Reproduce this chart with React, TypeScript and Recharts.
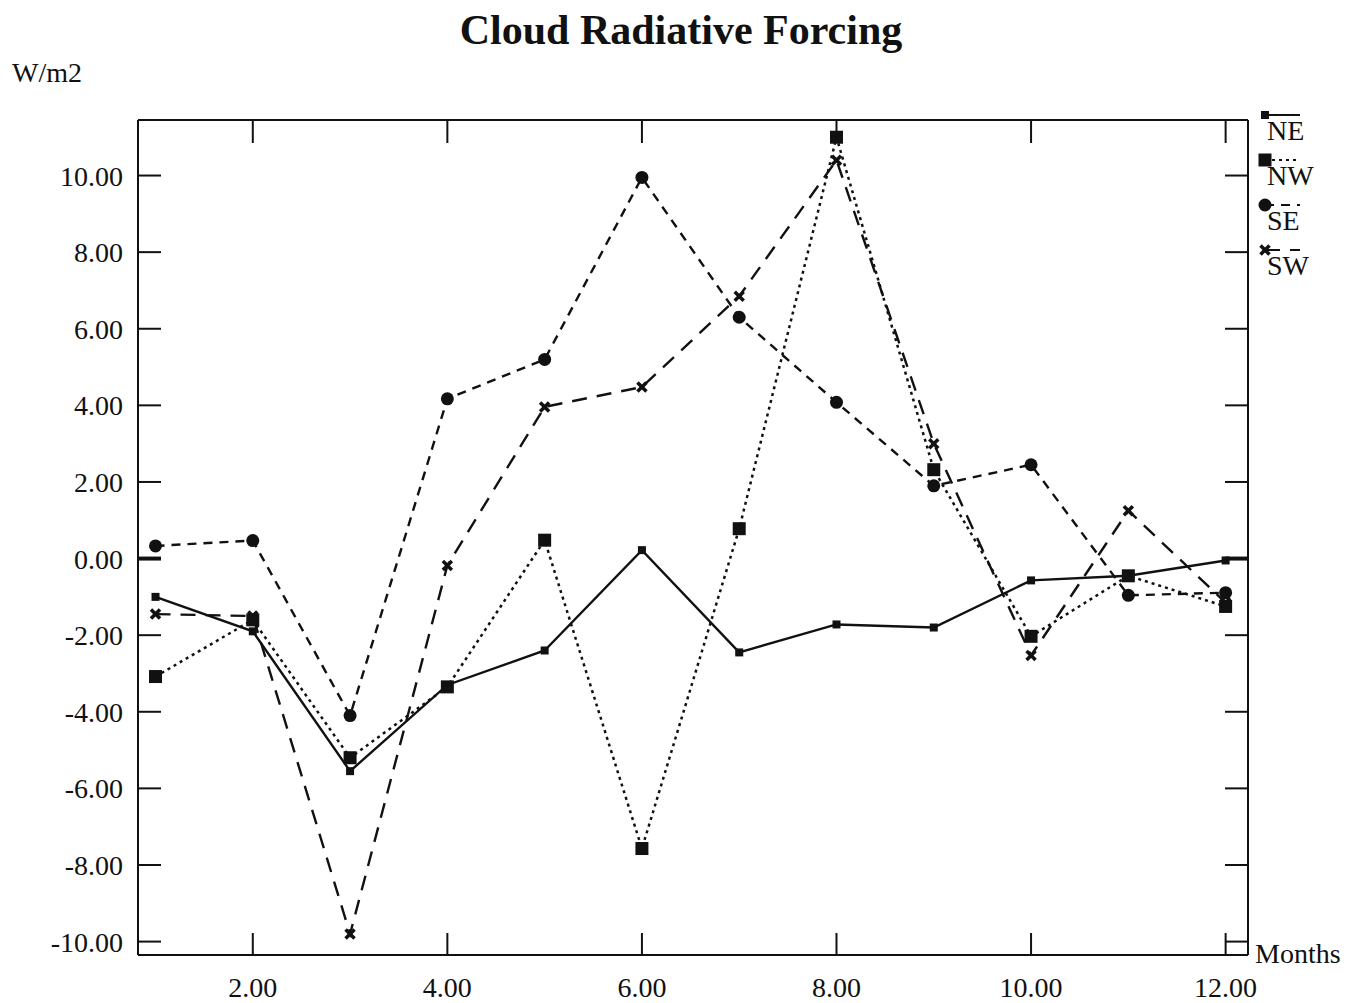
import React from "react";
import { LineChart, Line, XAxis, YAxis } from "recharts";

// Monthly cloud radiative forcing (W/m2) per quadrant
const months = [1, 2, 3, 4, 5, 6, 7, 8, 9, 10, 11, 12];
const neValues = [-1.0, -1.9, -5.55, -3.3, -2.4, 0.22, -2.45, -1.72, -1.8, -0.57, -0.45, -0.05];
const nwValues = [-3.08, -1.6, -5.2, -3.35, 0.48, -7.57, 0.78, 11.0, 2.32, -2.03, -0.45, -1.25];
const seValues = [0.33, 0.47, -4.1, 4.17, 5.2, 9.95, 6.3, 4.08, 1.9, 2.45, -0.96, -0.89];
const swValues = [-1.45, -1.5, -9.8, -0.18, 3.96, 4.48, 6.85, 10.4, 3.0, -2.53, 1.25, -1.15];

const xTicks = [2, 4, 6, 8, 10, 12];
const yTicks = [-10, -8, -6, -4, -2, 0, 2, 4, 6, 8, 10];

const INK = "#111";
const FONT = "'Liberation Serif', 'Times New Roman', serif";
const X_DOMAIN = [0.82, 12.23];
const Y_DOMAIN = [-10.35, 11.45];

const data = months.map((m, i) => ({
  month: m,
  NE: neValues[i],
  NW: nwValues[i],
  SE: seValues[i],
  SW: swValues[i],
}));

const fmt = (v: number) => v.toFixed(2);

// marker shapes
function square(size: number) {
  return (p: any) => (
    <rect key={`s${size}-${p.index}`} x={p.cx - size / 2} y={p.cy - size / 2} width={size} height={size} fill={INK} />
  );
}
function circle(p: any) {
  return <circle key={`c-${p.index}`} cx={p.cx} cy={p.cy} r={6.5} fill={INK} />;
}
function cross(p: any) {
  const s = 4.5;
  return (
    <g key={`x-${p.index}`} stroke={INK} strokeWidth={3.5}>
      <line x1={p.cx - s} y1={p.cy - s} x2={p.cx + s} y2={p.cy + s} />
      <line x1={p.cx - s} y1={p.cy + s} x2={p.cx + s} y2={p.cy - s} />
    </g>
  );
}

const series = [
  { key: "NE", dash: undefined, dot: square(8), width: 2.4 },
  { key: "NW", dash: "3 4", dot: square(13), width: 2.5 },
  { key: "SE", dash: "9 7", dot: circle, width: 2.4 },
  { key: "SW", dash: "15 10", dot: cross, width: 2.4 },
];

const LeftTick = (p: any) => (
  <g>
    <line x1={p.x} x2={p.x + 23} y1={p.y} y2={p.y} stroke={INK} strokeWidth={p.payload.value === 0 ? 4 : 2} />
    <text x={p.x - 15} y={p.y + 10} textAnchor="end" fontSize={28} fontFamily={FONT} fill={INK}>
      {fmt(p.payload.value)}
    </text>
  </g>
);
const RightTick = (p: any) => (
  <line x1={p.x - 23} x2={p.x} y1={p.y} y2={p.y} stroke={INK} strokeWidth={p.payload.value === 0 ? 4 : 2} />
);
const BottomTick = (p: any) => (
  <g>
    <line x1={p.x} x2={p.x} y1={p.y} y2={p.y - 22} stroke={INK} strokeWidth={2} />
    <text x={p.x} y={p.y + 42} textAnchor="middle" fontSize={28} fontFamily={FONT} fill={INK}>
      {fmt(p.payload.value)}
    </text>
  </g>
);
const TopTick = (p: any) => (
  <line x1={p.x} x2={p.x} y1={p.y} y2={p.y + 23} stroke={INK} strokeWidth={2} />
);

function LegendBox() {
  return (
    <svg width={97} height={190} style={{ position: "absolute", left: 1250, top: 100 }}>
      {series.map((s, i) => {
        const y = 15 + i * 45;
        return (
          <g key={s.key}>
            <line x1={15} x2={50} y1={y} y2={y} stroke={INK} strokeWidth={2} strokeDasharray={s.dash} />
            {s.dot({ cx: 15, cy: y, index: i })}
            <text x={17} y={y + 25} fontSize={28} fontFamily={FONT} fill={INK}>
              {s.key}
            </text>
          </g>
        );
      })}
    </svg>
  );
}

export default function App() {
  const axisLine = { stroke: INK, strokeWidth: 2 };
  return (
    <div style={{ position: "absolute", left: 0, top: 0, width: 1347, height: 1003, background: "#fff" }}>
      <LineChart width={1347} height={1003} data={data} margin={{ top: 0, right: 0, bottom: 0, left: 0 }}>
        <XAxis
          dataKey="month"
          type="number"
          domain={X_DOMAIN}
          ticks={xTicks}
          height={48}
          axisLine={axisLine}
          tickLine={false}
          tickSize={0}
          tickMargin={0}
          tick={BottomTick}
          allowDataOverflow
        />
        <XAxis
          xAxisId="top"
          orientation="top"
          dataKey="month"
          type="number"
          domain={X_DOMAIN}
          ticks={xTicks}
          height={120}
          axisLine={axisLine}
          tickLine={false}
          tickSize={0}
          tickMargin={0}
          tick={TopTick}
          allowDataOverflow
        />
        <YAxis
          type="number"
          domain={Y_DOMAIN}
          ticks={yTicks}
          width={138}
          axisLine={axisLine}
          tickLine={false}
          tickSize={0}
          tickMargin={0}
          tick={LeftTick}
          allowDataOverflow
        />
        <YAxis
          yAxisId="right"
          orientation="right"
          type="number"
          domain={Y_DOMAIN}
          ticks={yTicks}
          width={99}
          axisLine={axisLine}
          tickLine={false}
          tickSize={0}
          tickMargin={0}
          tick={RightTick}
          allowDataOverflow
        />
        {series.map((s) => (
          <Line
            key={s.key}
            dataKey={s.key}
            type="linear"
            stroke={INK}
            strokeWidth={s.width}
            strokeDasharray={s.dash}
            dot={s.dot}
            activeDot={false}
            isAnimationActive={false}
          />
        ))}
      </LineChart>
      <svg width={1347} height={1003} style={{ position: "absolute", left: 0, top: 0, pointerEvents: "none" }}>
        <text x={681} y={44} textAnchor="middle" fontSize={42} fontWeight="bold" fontFamily={FONT} fill={INK}>
          Cloud Radiative Forcing
        </text>
        <text x={12} y={82} fontSize={28} fontFamily={FONT} fill={INK}>
          W/m2
        </text>
        <text x={1255} y={963} fontSize={28} fontFamily={FONT} fill={INK}>
          Months
        </text>
      </svg>
      <LegendBox />
    </div>
  );
}
